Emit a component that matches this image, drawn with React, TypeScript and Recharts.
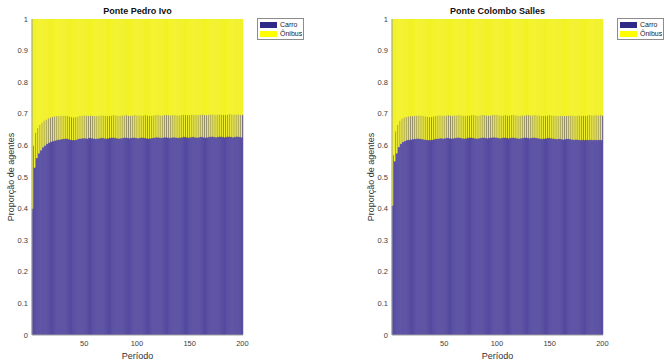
import { BarChart, Bar, XAxis, YAxis } from "recharts";

const FONT = '"Liberation Sans", Arial, Helvetica, sans-serif';

const periods = Array.from({ length: 200 }, (_, i) => i + 1);

const xTicks = [50, 100, 150, 200];
const yTicks = [0, 0.1, 0.2, 0.3, 0.4, 0.5, 0.6, 0.7, 0.8, 0.9, 1];

// share of agents choosing car, period by period
const carroPedroIvo = [
    0.400, 0.600, 0.530, 0.640, 0.560, 0.655, 0.575, 0.665, 0.585, 0.672,
    0.594, 0.678, 0.600, 0.682, 0.605, 0.686, 0.609, 0.689, 0.612, 0.691,
    0.614, 0.692, 0.616, 0.693, 0.618, 0.693, 0.619, 0.694, 0.620, 0.693,
    0.621, 0.694, 0.622, 0.694, 0.620, 0.692, 0.618, 0.690, 0.617, 0.689,
    0.617, 0.690, 0.619, 0.691, 0.621, 0.693, 0.622, 0.694, 0.623, 0.695,
    0.623, 0.695, 0.622, 0.694, 0.624, 0.695, 0.623, 0.694, 0.622, 0.693,
    0.621, 0.693, 0.622, 0.694, 0.623, 0.695, 0.624, 0.695, 0.623, 0.694,
    0.622, 0.693, 0.623, 0.694, 0.624, 0.695, 0.625, 0.696, 0.624, 0.695,
    0.623, 0.694, 0.622, 0.694, 0.623, 0.695, 0.624, 0.695, 0.625, 0.696,
    0.624, 0.695, 0.623, 0.694, 0.624, 0.695, 0.625, 0.696, 0.624, 0.695,
    0.623, 0.695, 0.624, 0.694, 0.625, 0.695, 0.624, 0.696, 0.623, 0.695,
    0.622, 0.694, 0.623, 0.694, 0.624, 0.695, 0.625, 0.696, 0.626, 0.696,
    0.625, 0.695, 0.624, 0.695, 0.625, 0.696, 0.626, 0.697, 0.625, 0.696,
    0.624, 0.695, 0.625, 0.696, 0.626, 0.696, 0.625, 0.695, 0.624, 0.695,
    0.625, 0.696, 0.626, 0.697, 0.627, 0.697, 0.626, 0.696, 0.625, 0.696,
    0.626, 0.697, 0.627, 0.697, 0.626, 0.696, 0.625, 0.696, 0.626, 0.697,
    0.627, 0.698, 0.626, 0.697, 0.625, 0.696, 0.626, 0.697, 0.627, 0.698,
    0.628, 0.698, 0.627, 0.697, 0.626, 0.697, 0.627, 0.698, 0.628, 0.698,
    0.627, 0.697, 0.626, 0.697, 0.627, 0.698, 0.628, 0.699, 0.627, 0.698,
    0.626, 0.697, 0.627, 0.698, 0.628, 0.698, 0.627, 0.697, 0.626, 0.697,
];

const carroColomboSalles = [
    0.410, 0.570, 0.550, 0.645, 0.575, 0.665, 0.595, 0.678, 0.605, 0.684,
    0.611, 0.688, 0.614, 0.690, 0.617, 0.692, 0.618, 0.693, 0.619, 0.693,
    0.620, 0.694, 0.621, 0.694, 0.622, 0.695, 0.621, 0.694, 0.620, 0.693,
    0.619, 0.692, 0.618, 0.691, 0.617, 0.690, 0.617, 0.691, 0.618, 0.692,
    0.620, 0.693, 0.621, 0.694, 0.622, 0.695, 0.623, 0.695, 0.622, 0.694,
    0.623, 0.695, 0.624, 0.696, 0.623, 0.695, 0.622, 0.694, 0.623, 0.695,
    0.624, 0.695, 0.625, 0.696, 0.624, 0.695, 0.623, 0.694, 0.622, 0.694,
    0.623, 0.695, 0.624, 0.695, 0.625, 0.696, 0.624, 0.696, 0.623, 0.695,
    0.622, 0.694, 0.623, 0.695, 0.624, 0.696, 0.625, 0.696, 0.624, 0.695,
    0.623, 0.695, 0.624, 0.695, 0.625, 0.696, 0.626, 0.697, 0.625, 0.696,
    0.624, 0.695, 0.623, 0.694, 0.624, 0.695, 0.625, 0.696, 0.624, 0.695,
    0.623, 0.695, 0.624, 0.696, 0.625, 0.696, 0.624, 0.695, 0.623, 0.694,
    0.622, 0.694, 0.623, 0.695, 0.624, 0.695, 0.625, 0.696, 0.624, 0.696,
    0.623, 0.695, 0.624, 0.695, 0.625, 0.696, 0.624, 0.695, 0.623, 0.695,
    0.622, 0.694, 0.621, 0.694, 0.622, 0.695, 0.623, 0.695, 0.624, 0.696,
    0.623, 0.695, 0.622, 0.694, 0.621, 0.694, 0.620, 0.693, 0.621, 0.694,
    0.620, 0.694, 0.619, 0.693, 0.620, 0.694, 0.621, 0.695, 0.620, 0.694,
    0.619, 0.694, 0.618, 0.693, 0.619, 0.694, 0.618, 0.695, 0.617, 0.694,
    0.618, 0.695, 0.617, 0.694, 0.618, 0.695, 0.617, 0.696, 0.618, 0.695,
    0.617, 0.695, 0.618, 0.696, 0.617, 0.695, 0.618, 0.696, 0.617, 0.695,
];

const CARRO = "#5c50a6";
const ONIBUS = "#f7f724";

function buildRows(carro: number[]) {
    return periods.map((period, i) => ({
        period,
        carro: carro[i],
        onibus: +(1 - carro[i]).toFixed(3),
    }));
}

function LegendBox() {
    const row = (color: string, label: string) => (
        <div style={{ display: "flex", alignItems: "center", height: 9 }}>
            <div style={{ width: 17, height: 6, background: color, marginLeft: 2, marginRight: 3 }} />
            <span style={{ fontSize: 7, color: "#222", lineHeight: "9px" }}>{label}</span>
        </div>
    );
    return (
        <div
            style={{
                position: "absolute",
                left: 257,
                top: 18,
                width: 45,
                height: 19,
                border: "1px solid #8c8c8c",
                background: "#fff",
                paddingTop: 1,
                fontFamily: FONT,
            }}
        >
            {row("#2e2a86", "Carro")}
            {row("#ffff00", "Ônibus")}
        </div>
    );
}

function YLabel({ viewBox }: any) {
    const cx = viewBox.x + 5;
    const cy = viewBox.y + viewBox.height / 2;
    return (
        <text
            x={cx}
            y={cy}
            transform={`rotate(-90 ${cx} ${cy})`}
            textAnchor="middle"
            dominantBaseline="central"
            fontSize={9}
            fill="#333"
            fontFamily={FONT}
        >
            Proporção de agentes
        </text>
    );
}

function Panel({ left, title, carro }: { left: number; title: string; carro: number[] }) {
    const rows = buildRows(carro);
    return (
        <div style={{ position: "absolute", left, top: 0, width: 360, height: 362 }}>
            <div
                style={{
                    position: "absolute",
                    left: 32,
                    top: 7,
                    width: 211,
                    textAlign: "center",
                    fontFamily: FONT,
                    fontWeight: "bold",
                    fontSize: 9,
                    lineHeight: "9px",
                    color: "#111",
                }}
            >
                {title}
            </div>
            <BarChart
                width={360}
                height={362}
                data={rows}
                margin={{ top: 19, right: 117, bottom: 0, left: 6 }}
                barCategoryGap={0}
                barGap={0}
            >
                <XAxis
                    dataKey="period"
                    ticks={xTicks}
                    tickSize={0}
                    tickMargin={6}
                    height={27}
                    axisLine={{ stroke: "#a0a0a0" }}
                    tick={{ fontSize: 7.5, fill: "#404040", fontFamily: FONT }}
                    label={{
                        value: "Período",
                        position: "insideBottom",
                        offset: 3,
                        fontSize: 9,
                        fill: "#333",
                        fontFamily: FONT,
                    }}
                />
                <YAxis
                    type="number"
                    domain={[0, 1]}
                    allowDataOverflow
                    ticks={yTicks}
                    width={26}
                    tickSize={0}
                    tickMargin={4}
                    axisLine={{ stroke: "#a0a0a0" }}
                    tick={{ fontSize: 7.5, fill: "#404040", fontFamily: FONT }}
                    label={<YLabel />}
                />
                {/* thin strokes close the anti-aliasing seams between 1px bars */}
                <Bar
                    dataKey="carro"
                    stackId="a"
                    fill={CARRO}
                    stroke="#4e449a"
                    strokeWidth={0.5}
                    isAnimationActive={false}
                />
                <Bar
                    dataKey="onibus"
                    stackId="a"
                    fill={ONIBUS}
                    stroke="#efef22"
                    strokeWidth={0.5}
                    isAnimationActive={false}
                />
            </BarChart>
            <LegendBox />
        </div>
    );
}

export default function App() {
    return (
        <div
            style={{
                position: "absolute",
                left: 0,
                top: 0,
                width: 664,
                height: 362,
                background: "#fff",
                overflow: "hidden",
            }}
        >
            <Panel left={0} title="Ponte Pedro Ivo" carro={carroPedroIvo} />
            <Panel left={360} title="Ponte Colombo Salles" carro={carroColomboSalles} />
        </div>
    );
}
